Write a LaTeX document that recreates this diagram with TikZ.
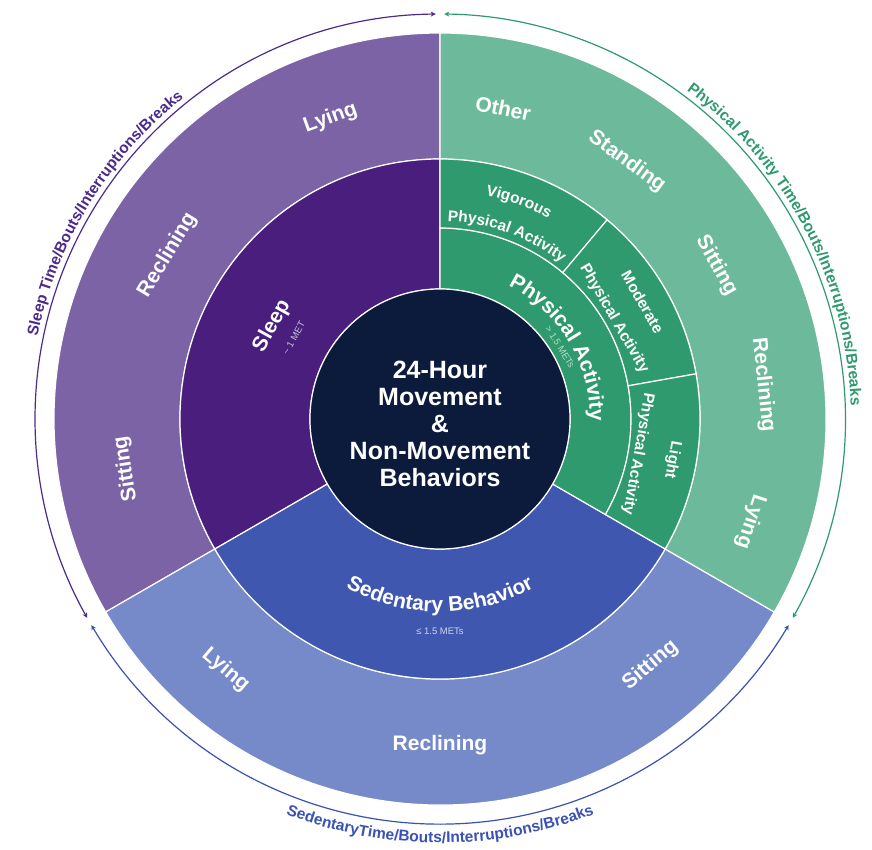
\documentclass[tikz,border=0pt]{standalone}
\usepackage{fontspec}
\setmainfont{Liberation Sans}
\usetikzlibrary{decorations.text,arrows.meta}

\definecolor{sleepO}{HTML}{7B63A5}
\definecolor{sleepI}{HTML}{491E7D}
\definecolor{sedO}{HTML}{7689C8}
\definecolor{sedI}{HTML}{3F57AF}
\definecolor{paO}{HTML}{6DB99B}
\definecolor{paI}{HTML}{309A6F}
\definecolor{core}{HTML}{0C1A3C}
\definecolor{sleepCap}{HTML}{4B2A8C}
\definecolor{paCap}{HTML}{2E9A6E}
\definecolor{sedCap}{HTML}{3B52B2}
\definecolor{metSl}{HTML}{C8C0DA}
\definecolor{metPa}{HTML}{B4DEC9}
\definecolor{metSd}{HTML}{CDD4EE}

\newcommand\ringsec[5]{%
  \filldraw[fill=#1, sepline] (#2:#4) -- (#2:#5) arc[start angle=#2, end angle=#3, radius=#5] -- (#3:#4) arc[start angle=#3, end angle=#2, radius=#4] -- cycle;}

\tikzset{
  sepline/.style={draw=white, line width=1.2pt},
  biglbl/.style={text=white, font=\fontsize{21}{24}\selectfont\bfseries, inner sep=0pt},
  midlbl/.style={text=white, font=\fontsize{15.5}{18}\selectfont\bfseries, inner sep=0pt},
  metlbl/.style={font=\fontsize{9.5}{10}\selectfont, inner sep=0pt},
  capline/.style={line width=1.2pt, {Stealth[length=5pt,width=5pt]}-{Stealth[length=5pt,width=5pt]}},
}

\begin{document}
\begin{tikzpicture}
\useasboundingbox[fill=white] (-440pt,-431pt) rectangle (432pt,419pt);

% outer ring
\ringsec{sleepO}{90}{210}{260pt}{386pt}
\ringsec{sedO}{210}{330}{260pt}{386pt}
\ringsec{paO}{-30}{90}{260pt}{386pt}
% middle ring
\ringsec{sleepI}{90}{210}{130pt}{260pt}
\ringsec{sedI}{210}{330}{130pt}{260pt}
\ringsec{paI}{-30}{90}{130pt}{191pt}
\ringsec{paI}{50}{90}{191pt}{260pt}
\ringsec{paI}{10}{50}{191pt}{260pt}
\ringsec{paI}{-30}{10}{191pt}{260pt}

% core
\node[circle, fill=core, draw=white, line width=1.2pt, minimum size=260pt, inner sep=0pt] (core) at (0,0) {};
\node[align=center, text=white, font=\fontsize{25}{27}\selectfont\bfseries] (coreText) at (0,-5pt) {24-Hour\\Movement\\\&\\Non-Movement\\Behaviors};

% outer ring labels: sleep
\node[biglbl, rotate=20] (slLying) at (110:320pt) {Lying};
\node[biglbl, rotate=59] (slRecl) at (149:318pt) {Reclining};
\node[biglbl, rotate=99] (slSit) at (189:318pt) {Sitting};
% sedentary
\node[biglbl, rotate=-40.5] (sdLying) at (229.5:330pt) {Lying};
\node[biglbl] (sdRecl) at (270:326pt) {Reclining};
\node[biglbl, rotate=40.5] (sdSit) at (310.5:324pt) {Sitting};
% physical activity
\node[biglbl, rotate=-11.5] (paOther) at (78.5:317pt) {Other};
\node[biglbl, rotate=-36] (paStand) at (54:318pt) {Standing};
\node[biglbl, rotate=-61] (paSit) at (29:316pt) {Sitting};
\node[biglbl, rotate=-84] (paRecl) at (6:325pt) {Reclining};
\node[biglbl, rotate=-108.3] (paLying) at (-18.3:327pt) {Lying};

% middle ring labels
\node[biglbl, rotate=61] (sleepLbl) at (151:192pt) {Sleep};
\node[metlbl, text=metSl, rotate=61] (sleepMet) at (151:167pt) {\textasciitilde\ 1 MET};

\path[decorate, decoration={text along path, text align=center, text color=white,
  text={|\fontsize{21}{24}\selectfont\bfseries|Physical Activity}}]
  (72:150pt) arc[start angle=72, end angle=-10, radius=150pt];
\node[metlbl, text=metPa, rotate=-59] (paMet) at (31:140pt) {> 1.5 METs};

\path[decorate, decoration={text along path, text align=center, text color=white,
  text={|\fontsize{21}{24}\selectfont\bfseries|Sedentary Behavior}}]
  (220:193pt) arc[start angle=220, end angle=320, radius=193pt];
\node[metlbl, text=metSd] (sdMet) at (270:212pt) {≤ 1.5 METs};

\path[decorate, decoration={text along path, text align=center, text color=white,
  text={|\fontsize{15.5}{18}\selectfont\bfseries|Vigorous}}]
  (100:228pt) arc[start angle=100, end angle=40, radius=228pt];
\path[decorate, decoration={text along path, text align=center, text color=white,
  text={|\fontsize{15.5}{18}\selectfont\bfseries|Physical Activity}}]
  (100:198pt) arc[start angle=100, end angle=40, radius=198pt];

\node[midlbl, rotate=-60] (modA) at (30:234pt) {Moderate};
\node[midlbl, rotate=-60] (modB) at (30:201pt) {Physical Activity};
\node[midlbl, rotate=-100] (ligA) at (-10:236pt) {Light};
\node[midlbl, rotate=-100] (ligB) at (-10:201pt) {Physical Activity};

% caption arcs
\draw[capline, sleepCap] (90.6:405pt) arc[start angle=90.6, end angle=209.4, radius=405pt];
\draw[capline, sedCap] (210.6:405pt) arc[start angle=210.6, end angle=329.4, radius=405pt];
\draw[capline, paCap] (-29.4:405pt) arc[start angle=-29.4, end angle=89.4, radius=405pt];

\path[decorate, decoration={text along path, text align=center, text color=sleepCap,
  text={|\fontsize{15.5}{18}\selectfont\bfseries|Sleep Time/Bouts/Interruptions/Breaks}}]
  (200:411pt) arc[start angle=200, end angle=97, radius=411pt];
\path[decorate, decoration={text along path, text align=center, text color=paCap,
  text={|\fontsize{15.5}{18}\selectfont\bfseries|Physical Activity Time/Bouts/Interruptions/Breaks}}]
  (80:411pt) arc[start angle=80, end angle=-25, radius=411pt];
\path[decorate, decoration={text along path, text align=center, text color=sedCap,
  text={|\fontsize{15.5}{18}\selectfont\bfseries|SedentaryTime/Bouts/Interruptions/Breaks}}]
  (225:424pt) arc[start angle=225, end angle=315, radius=424pt];
\end{tikzpicture}
\end{document}
